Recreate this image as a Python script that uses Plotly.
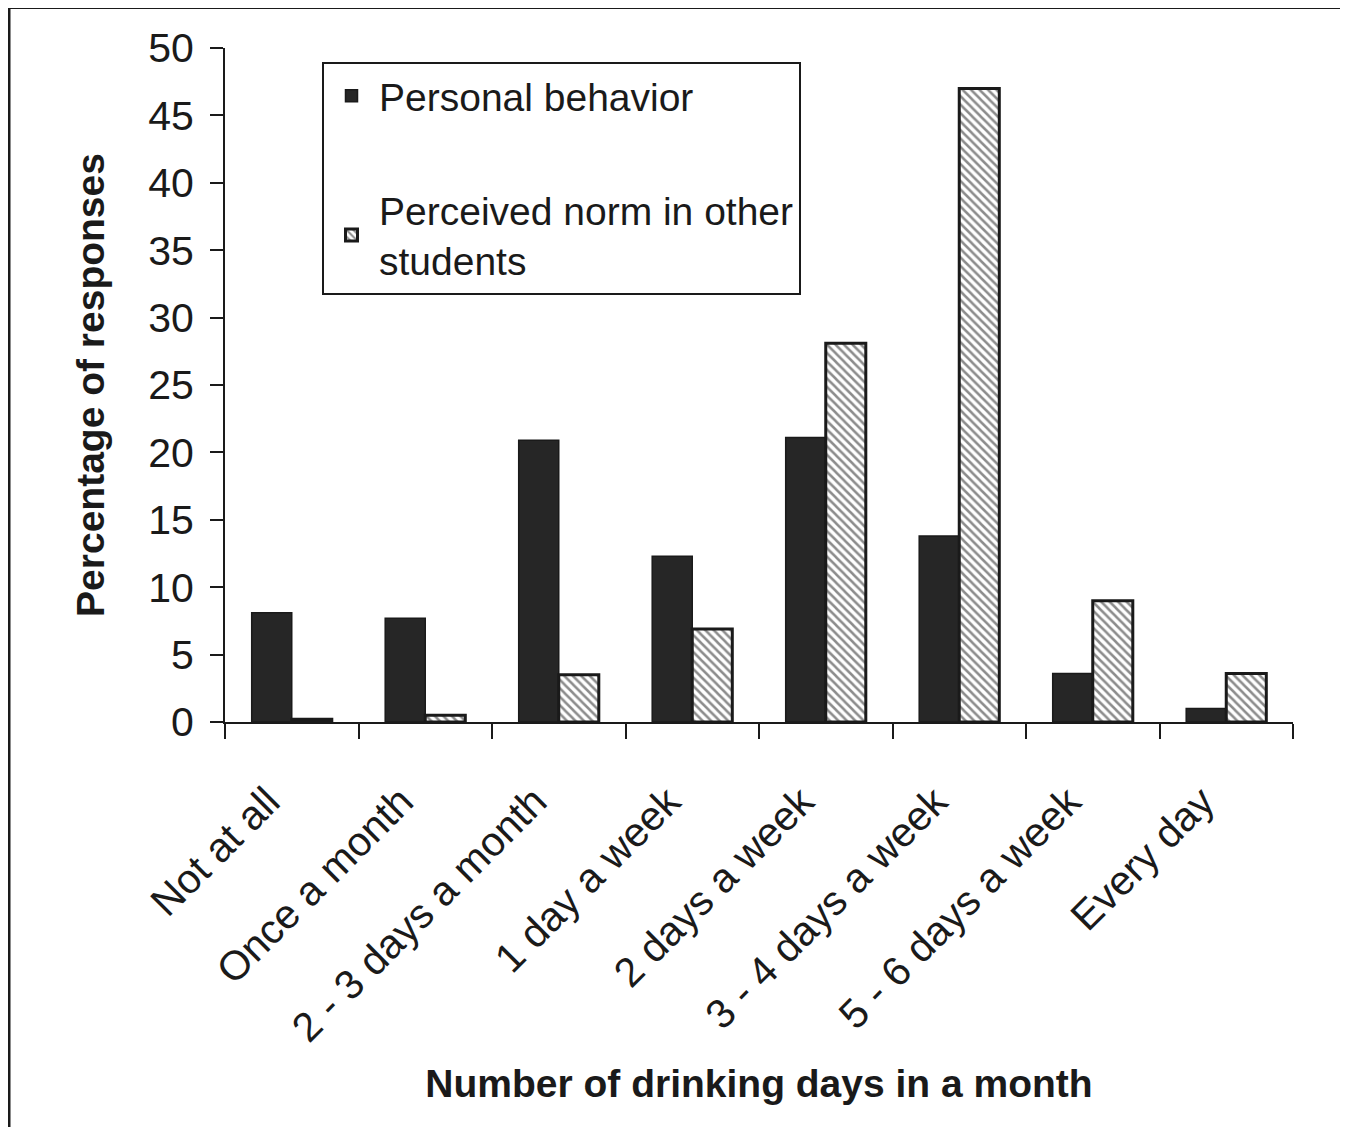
import plotly.graph_objects as go

categories = ["Not at all", "Once a month", "2 - 3 days a month", "1 day a week",
              "2 days a week", "3 - 4 days a week", "5 - 6 days a week", "Every day"]
personal = [8.1, 7.7, 20.9, 12.3, 21.1, 13.8, 3.6, 1.0]
perceived = [0.2, 0.5, 3.5, 6.9, 28.1, 47.0, 9.0, 3.6]
y_ticks = [0, 5, 10, 15, 20, 25, 30, 35, 40, 45, 50]

FONT = "Liberation Sans, Arial, sans-serif"
INK = "#1a1a1a"

fig = go.Figure()
fig.add_trace(go.Bar(
    x=categories, y=personal, name="Personal behavior",
    legendgroup="a",
    marker=dict(color="#262626", line=dict(color=INK, width=1.5)),
))
fig.add_trace(go.Bar(
    x=categories, y=perceived, name="Perceived norm in other<br>students",
    legendgroup="b",
    marker=dict(color="white", line=dict(color=INK, width=3),
                pattern=dict(shape="\\", fgcolor=INK, bgcolor="white",
                             size=6, solidity=0.42)),
))

# page offset (browser body margin) is 8px
OFF = 8
W, H = 1348 - OFF, 1127 - OFF
X0, X1 = 225 - OFF, 1293 - OFF   # plot area, figure px
Y0, Y1 = 48 - OFF, 722 - OFF
L, R, T, B = X0, W - X1, Y0, H - Y1
pw = X1 - X0
ph = Y1 - Y0

def px_x(p):
    return (p - OFF - X0) / pw

def px_y(p):
    return (Y1 - (p - OFF)) / ph

fig.update_layout(
    width=W, height=H,
    margin=dict(l=L, r=R, t=T, b=B, autoexpand=False),
    paper_bgcolor="white", plot_bgcolor="white",
    barmode="group", bargap=0.4, bargroupgap=0,
    font=dict(family=FONT, color=INK),
    showlegend=True,
    legend=dict(
        x=px_x(322), y=px_y(62), xanchor="left", yanchor="top",
        bordercolor=INK, borderwidth=2, bgcolor="white",
        font=dict(size=39, family=FONT, color=INK),
        tracegroupgap=60, traceorder="grouped",
        itemwidth=45,
    ),
    xaxis=dict(
        categoryorder="array", categoryarray=categories,
        showline=True, linecolor=INK, linewidth=2,
        ticks="outside", tickson="boundaries", ticklen=15, tickwidth=2, tickcolor=INK,
        tickangle=-45, tickfont=dict(size=41, family=FONT, color=INK),
        ticklabelstandoff=37, ticklabelshift=-24,
        title=dict(text="<b>Number of drinking days in a month</b>",
                   font=dict(size=39, family=FONT, color=INK), standoff=20),
        showgrid=False, zeroline=False, automargin=False,
    ),
    yaxis=dict(
        range=[0, 50], tickvals=y_ticks,
        showline=True, linecolor=INK, linewidth=2,
        ticks="outside", ticklen=13, tickwidth=2, tickcolor=INK,
        tickfont=dict(size=41, family=FONT, color=INK),
        ticklabelstandoff=8,
        title=dict(text="<b>Percentage of responses</b>",
                   font=dict(size=39, family=FONT, color=INK), standoff=32),
        showgrid=False, zeroline=False, automargin=False,
    ),
    shapes=[
        dict(type="line", xref="paper", yref="paper",
             x0=px_x(9), x1=px_x(9), y0=px_y(1140), y1=px_y(7.5),
             line=dict(color=INK, width=3)),
        dict(type="line", xref="paper", yref="paper",
             x0=px_x(9), x1=px_x(1360), y0=px_y(7.5), y1=px_y(7.5),
             line=dict(color=INK, width=3)),
    ],
)

fig.write_html("out.html")
